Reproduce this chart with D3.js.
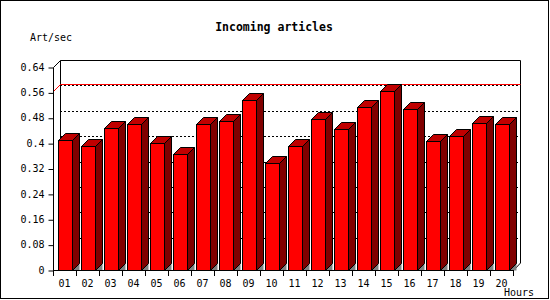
<!DOCTYPE html>
<head>
  <meta charset="utf-8">
  <script src="https://d3js.org/d3.v7.min.js"></script>
  <style>
    body { margin:0; background:#fff; }
    text { font-family: "DejaVu Sans Mono", monospace; fill:#000; }
  </style>
</head>
<body>
<script>
// data
var hours = ["01","02","03","04","05","06","07","08","09","10",
             "11","12","13","14","15","16","17","18","19","20"];
var artPerSec = [0.410, 0.391, 0.447, 0.459, 0.399, 0.365, 0.459, 0.470, 0.536, 0.336,
                 0.391, 0.476, 0.445, 0.514, 0.564, 0.507, 0.407, 0.423, 0.463, 0.460];
var yTicks = [0, 0.08, 0.16, 0.24, 0.32, 0.4, 0.48, 0.56, 0.64];

var W = 550, H = 300;
var depth = 7; // 3d offset

var svg = d3.select("body").append("svg")
  .attr("width", W).attr("height", H);

// outer frame
svg.append("rect")
  .attr("x", 0.5).attr("y", 0.5)
  .attr("width", W - 2).attr("height", H - 2)
  .attr("fill", "#fff").attr("stroke", "#000");

var x = d3.scaleBand().domain(hours).range([53, 513]);
var y = d3.scaleLinear().domain([0, 0.64]).range([270, 67]);

var x0 = x.range()[0], x1 = x.range()[1];
var yBase = y(0), yTop = y(0.64);
var px = function(v) { return Math.round(v) + 0.5; }; // crisp lines

// back wall
var wall = svg.append("g");
yTicks.slice(1, -1).forEach(function(t) {
  wall.append("line")
    .attr("x1", x0 + depth).attr("x2", x1 + depth)
    .attr("y1", px(y(t) - depth)).attr("y2", px(y(t) - depth))
    .attr("stroke", "#000").attr("stroke-dasharray", "2,2");
});
wall.append("path")
  .attr("d", "M" + px(x0 + depth) + "," + (yBase - depth) +
             "V" + px(yTop - depth) + "H" + px(x1 + depth) +
             "V" + (yBase - depth) + "L" + px(x1) + "," + px(yBase))
  .attr("fill", "none").attr("stroke", "#000");
// connection of the front axis to the wall
wall.append("line")
  .attr("x1", px(x0)).attr("y1", px(yTop))
  .attr("x2", px(x0 + depth)).attr("y2", px(yTop - depth))
  .attr("stroke", "#000");

// max line
var maxV = d3.max(artPerSec);
svg.append("path")
  .attr("d", "M" + px(x0) + "," + px(y(maxV)) + "L" + px(x0 + depth) + "," + px(y(maxV) - depth) +
             "H" + px(x1 + depth))
  .attr("fill", "none").attr("stroke", "#ff0000");

// bars
var bw = Math.round(x.bandwidth() * 0.63);
var left = function(d) { return px(x(d.h) + x.bandwidth() / 2 - bw / 2); };
var top_ = function(d) { return px(y(d.v)); };
var bars = svg.append("g").selectAll("g")
  .data(hours.map(function(h, i) { return {h: h, v: artPerSec[i]}; }))
  .join("g");

bars.append("path") // floor shadow
  .attr("d", function(d) {
    var r = left(d) + bw;
    return "M" + r + "," + px(yBase) + "L" + (r + depth) + "," + px(yBase - depth) + "V" + px(yBase) + "Z";
  })
  .attr("fill", "#808080");

bars.append("path") // side
  .attr("d", function(d) {
    var r = left(d) + bw, t = top_(d);
    return "M" + r + "," + t + "L" + (r + depth) + "," + (t - depth) +
           "V" + px(yBase - depth) + "L" + r + "," + px(yBase) + "Z";
  })
  .attr("fill", "#800000").attr("stroke", "#000");

bars.append("path") // top
  .attr("d", function(d) {
    var l = left(d), t = top_(d);
    return "M" + l + "," + t + "L" + (l + depth) + "," + (t - depth) +
           "H" + (l + bw + depth) + "L" + (l + bw) + "," + t + "Z";
  })
  .attr("fill", "#c00000").attr("stroke", "#000");

bars.append("rect") // front
  .attr("x", left)
  .attr("y", top_)
  .attr("width", bw)
  .attr("height", function(d) { return px(yBase) - top_(d); })
  .attr("fill", "#ff0000").attr("stroke", "#000");

// axes
var yAxis = d3.axisLeft(y).tickValues(yTicks).tickSize(5).tickPadding(4)
  .tickFormat(function(d) { return d3.format("~g")(d); });
svg.append("g")
  .attr("transform", "translate(" + px(x0) + ",0)")
  .call(yAxis)
  .call(function(g) {
    g.select(".domain").attr("d", "M0," + px(yTop) + "V" + px(yBase));
    g.selectAll(".tick line").attr("transform", "translate(0,0.5)");
    g.selectAll("text").attr("font-size", 10).attr("font-family", "DejaVu Sans Mono");
  });

var xAxis = d3.axisBottom(x).tickSize(0).tickPadding(9);
svg.append("g")
  .attr("transform", "translate(0," + px(yBase) + ")")
  .call(xAxis)
  .call(function(g) {
    g.select(".domain").attr("d", "M" + x0 + ",0H" + px(x1));
    g.selectAll("text").attr("font-size", 10).attr("font-family", "DejaVu Sans Mono");
  });
// x ticks sit between the categories
svg.append("g").selectAll("line")
  .data(d3.range(hours.length + 1))
  .join("line")
  .attr("x1", function(i) { return px(x0 + i * x.step()); })
  .attr("x2", function(i) { return px(x0 + i * x.step()); })
  .attr("y1", yBase).attr("y2", yBase + 6)
  .attr("stroke", "#000");

// titles
svg.append("text")
  .attr("x", 274).attr("y", 31)
  .attr("text-anchor", "middle")
  .attr("font-size", 11.5).attr("font-weight", "bold")
  .text("Incoming articles");

svg.append("text")
  .attr("x", 30).attr("y", 41)
  .attr("font-size", 10)
  .text("Art/sec");

svg.append("text")
  .attr("x", 534).attr("y", 296)
  .attr("text-anchor", "end")
  .attr("font-size", 10)
  .text("Hours");
</script>
</body>
